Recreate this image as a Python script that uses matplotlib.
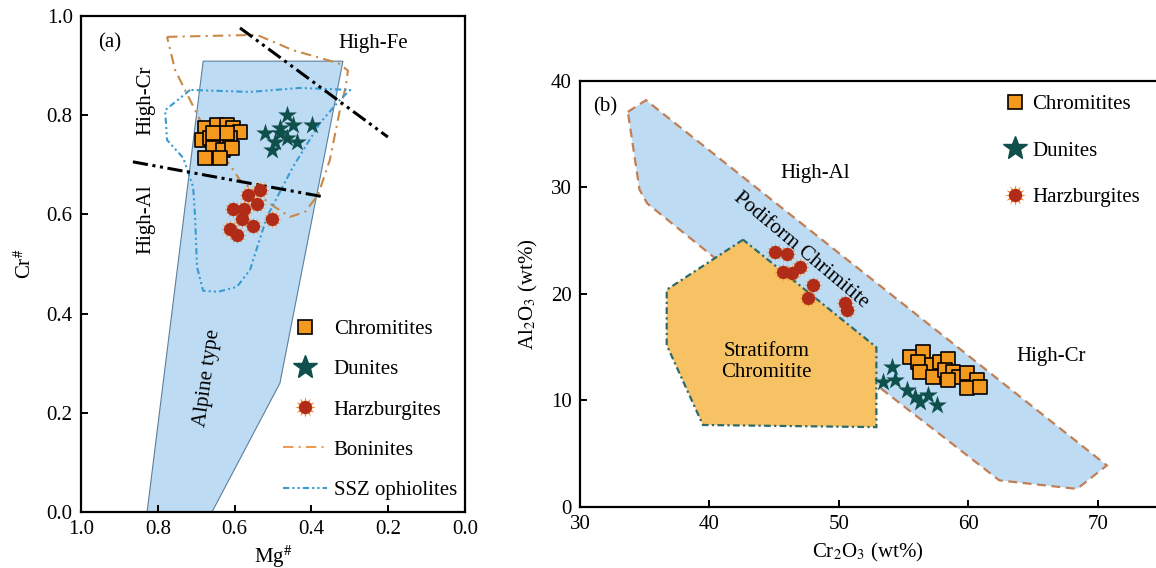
import numpy as np
import matplotlib
matplotlib.use("Agg")
import matplotlib.pyplot as plt
from matplotlib.lines import Line2D
from matplotlib.patches import Polygon
from matplotlib.legend_handler import HandlerTuple

# ==========================
# Data panel (a): Mg# vs Cr#
# ==========================
alpine_mg = [0.682, 0.318, 0.482, 0.659, 0.828]
alpine_cr = [0.909, 0.909, 0.260, 0.0, 0.0]

bon_mg = [0.776, 0.542, 0.448, 0.330, 0.305, 0.310, 0.326, 0.352, 0.383, 0.417, 0.456,
          0.503, 0.586, 0.690, 0.755, 0.776]
bon_cr = [0.958, 0.962, 0.931, 0.905, 0.890, 0.860, 0.810, 0.710, 0.639, 0.605, 0.595,
          0.619, 0.669, 0.790, 0.891, 0.958]

ssz_mg = [0.716, 0.781, 0.776, 0.734, 0.708, 0.703, 0.698, 0.682, 0.643, 0.594,
          0.560, 0.516, 0.448, 0.378, 0.326, 0.299, 0.430, 0.560, 0.716]
ssz_cr = [0.851, 0.810, 0.750, 0.714, 0.655, 0.595, 0.494, 0.446, 0.444, 0.454,
          0.488, 0.595, 0.696, 0.784, 0.831, 0.851, 0.855, 0.847, 0.851]

line_fe_mg = [0.586, 0.201]
line_fe_cr = [0.976, 0.756]
line_al_mg = [0.865, 0.365]
line_al_cr = [0.706, 0.635]

chr_mg = [0.677, 0.646, 0.620, 0.604, 0.586, 0.685, 0.664, 0.638, 0.612, 0.656,
          0.630, 0.607, 0.677, 0.638, 0.620, 0.656]
chr_cr = [0.774, 0.780, 0.780, 0.774, 0.766, 0.750, 0.754, 0.746, 0.754, 0.734,
          0.730, 0.734, 0.714, 0.714, 0.764, 0.764]

dun_mg = [0.464, 0.521, 0.482, 0.448, 0.398, 0.495, 0.464, 0.438, 0.503, 0.482]
dun_cr = [0.800, 0.764, 0.774, 0.780, 0.780, 0.746, 0.754, 0.746, 0.730, 0.764]

hz_mg = [0.534, 0.565, 0.542, 0.576, 0.604, 0.581, 0.503, 0.552, 0.612, 0.594]
hz_cr = [0.649, 0.639, 0.621, 0.611, 0.611, 0.591, 0.591, 0.577, 0.571, 0.558]

# ==========================
# Data panel (b): Cr2O3 vs Al2O3
# ==========================
pod_cr = [33.7, 35.1, 70.7, 68.4, 62.4, 53.7, 40.3, 35.2, 34.6]
pod_al = [37.1, 38.2, 3.9, 1.7, 2.5, 10.7, 23.5, 28.5, 29.8]

strat_cr = [42.6, 36.7, 36.7, 39.5, 52.9, 52.9]
strat_al = [25.1, 20.4, 15.2, 7.7, 7.5, 15.0]

chr2_cr = [55.5, 56.5, 56.1, 57.2, 57.8, 58.4, 56.3, 57.3, 58.2, 58.8, 59.3, 58.4,
           59.9, 60.7, 59.9, 60.9]
chr2_al = [14.1, 14.6, 13.6, 13.3, 13.6, 13.9, 12.7, 12.2, 12.9, 12.7, 12.2, 11.9,
           12.6, 11.9, 11.2, 11.3]

dun2_cr = [54.1, 53.4, 54.3, 55.3, 55.9, 56.9, 57.6, 56.3]
dun2_al = [13.1, 11.7, 11.9, 11.0, 10.3, 10.5, 9.6, 9.9]

hz2_cr = [45.1, 46.0, 45.7, 46.4, 47.0, 48.0, 47.6, 50.5, 50.6]
hz2_al = [23.9, 23.8, 22.1, 22.0, 22.5, 20.8, 19.6, 19.2, 18.5]

# ==========================
# Stijl
# ==========================
plt.rcParams['font.family'] = ['Liberation Serif', 'DejaVu Serif']
plt.rcParams['mathtext.fontset'] = 'stix'
fs = 15

blue_fill = '#bddcf3'
orange_fill = '#f6c263'
sq_col = '#f39a1e'
star_col = '#0f4f4c'
hz_in = '#b02c18'
hz_out = '#f28c2c'
bon_col = '#c98848'
ssz_col = '#3a9ad2'

fig = plt.figure(figsize=(11.56, 5.68), dpi=100)
ax1 = fig.add_axes([0.0701, 0.0986, 0.3322, 0.8732])
ax2 = fig.add_axes([0.5017, 0.1074, 0.4983, 0.75])


def harz(ax, x, y, s_out, s_in, z=5):
    ax.scatter(x, y, s=s_out, marker=(12, 1, 0), color=hz_out, lw=0, zorder=z)
    ax.scatter(x, y, s=s_in, marker='o', color=hz_in, lw=0, zorder=z + 0.1)


# ---------- panel (a) ----------
ax1.add_patch(Polygon(np.column_stack([alpine_mg, alpine_cr]), closed=True,
                      facecolor=blue_fill, edgecolor='#5d7f9c', lw=0.8, zorder=1))
ax1.plot(bon_mg, bon_cr, color=bon_col, lw=1.5, ls=(0, (5, 2.5, 1, 2.5)), zorder=2)
ax1.plot(ssz_mg, ssz_cr, color=ssz_col, lw=1.5, ls=(0, (3, 1.5, 1, 1.5, 1, 1.5)), zorder=2)
ax1.plot(line_fe_mg, line_fe_cr, color='black', lw=2.2, ls=(0, (5, 1.5, 1, 1.5, 1, 1.5)), zorder=3)
ax1.plot(line_al_mg, line_al_cr, color='black', lw=2.2, ls=(0, (5, 1.5, 1, 1.5, 1, 1.5)), zorder=3)

ax1.scatter(chr_mg, chr_cr, s=115, marker='s', color=sq_col, edgecolor='black', lw=1.2, zorder=5)
ax1.scatter(dun_mg, dun_cr, s=200, marker='*', color=star_col, lw=0, zorder=5)
harz(ax1, hz_mg, hz_cr, 170, 90)

ax1.set_xlim(1.0, 0.0)
ax1.set_ylim(0.0, 1.0)
ax1.set_xticks([1.0, 0.8, 0.6, 0.4, 0.2, 0.0])
ax1.set_yticks([0.0, 0.2, 0.4, 0.6, 0.8, 1.0])
ax1.xaxis.set_major_formatter(plt.FormatStrFormatter('%.1f'))
ax1.yaxis.set_major_formatter(plt.FormatStrFormatter('%.1f'))
ax1.set_xlabel('Mg$^{\\#}$', fontsize=fs, labelpad=3)
ax1.set_ylabel('Cr$^{\\#}$', fontsize=fs, labelpad=8)

ax1.text(0.955, 0.945, '(a)', fontsize=fs, va='center')
ax1.text(0.24, 0.945, 'High-Fe', fontsize=fs, ha='center', va='center')
ax1.text(0.83, 0.83, 'High-Cr', fontsize=fs, rotation=90, ha='center', va='center')
ax1.text(0.83, 0.59, 'High-Al', fontsize=fs, rotation=90, ha='center', va='center')
ax1.text(0.67, 0.27, 'Alpine type', fontsize=fs, rotation=82, ha='center', va='center')

h_sq = Line2D([], [], marker='s', ms=10.5, mfc=sq_col, mec='black', mew=1.2, ls='none')
h_st = Line2D([], [], marker='*', ms=18, mfc=star_col, mec=star_col, ls='none')
h_hz = (Line2D([], [], marker=(12, 1, 0), ms=15, mfc=hz_out, mec=hz_out, mew=0, ls='none'),
        Line2D([], [], marker='o', ms=8.5, mfc=hz_in, mec=hz_in, ls='none'))
h_bon = Line2D([], [], color='#ee9a55', lw=1.5, ls=(0, (5, 2.5, 1, 2.5)))
h_ssz = Line2D([], [], color=ssz_col, lw=1.5, ls=(0, (3, 1.5, 1, 1.5, 1, 1.5)))

leg1 = ax1.legend([h_sq, h_st, h_hz, h_bon, h_ssz],
                  ['Chromitites', 'Dunites', 'Harzburgites', 'Boninites', 'SSZ ophiolites'],
                  loc='upper left', bbox_to_anchor=(0.526, 0.388), frameon=False,
                  fontsize=fs, handlelength=2.1, handletextpad=0.33, labelspacing=0.99,
                  borderpad=0, borderaxespad=0,
                  handler_map={tuple: HandlerTuple(ndivide=1, pad=0)})

# ---------- panel (b) ----------
ax2.add_patch(Polygon(np.column_stack([pod_cr, pod_al]), closed=True,
                      facecolor=blue_fill, edgecolor='#c27f55', lw=1.6, ls=(0, (4, 2.5)), zorder=1))
ax2.add_patch(Polygon(np.column_stack([strat_cr, strat_al]), closed=True,
                      facecolor=orange_fill, edgecolor='#2e6a6c', lw=1.6,
                      ls=(0, (3, 1.5, 1, 1.5)), zorder=2))

ax2.scatter(chr2_cr, chr2_al, s=115, marker='s', color=sq_col, edgecolor='black', lw=1.2, zorder=5)
ax2.scatter(dun2_cr, dun2_al, s=200, marker='*', color=star_col, lw=0, zorder=5)
harz(ax2, hz2_cr, hz2_al, 170, 90)

ax2.set_xlim(30, 74.5)
ax2.set_ylim(0, 40)
ax2.set_xticks([30, 40, 50, 60, 70])
ax2.set_yticks([0, 10, 20, 30, 40])
ax2.spines['right'].set_visible(False)
ax2.set_xlabel('Cr$_2$O$_3$ (wt%)', fontsize=fs, labelpad=5)
ax2.set_ylabel('Al$_2$O$_3$ (wt%)', fontsize=fs, labelpad=8)

ax2.text(31.0, 37.6, '(b)', fontsize=fs, va='center')
ax2.text(48.2, 31.3, 'High-Al', fontsize=fs, ha='center', va='center')
ax2.text(66.4, 14.1, 'High-Cr', fontsize=fs, ha='center', va='center')
ax2.text(47.1, 24.1, 'Podiform Chrimitite', fontsize=fs, rotation=-40,
         ha='center', va='center', rotation_mode='anchor')
ax2.text(44.4, 13.6, 'Stratiform\nChromitite', fontsize=fs, ha='center', va='center',
         linespacing=1.15)

leg2 = ax2.legend([h_sq, h_st, h_hz], ['Chromitites', 'Dunites', 'Harzburgites'],
                  loc='upper left', bbox_to_anchor=(0.738, 0.968), frameon=False,
                  fontsize=fs, handlelength=1.0, handletextpad=0.3, labelspacing=1.29,
                  borderpad=0, borderaxespad=0,
                  handler_map={tuple: HandlerTuple(ndivide=1, pad=0)})

for ax in (ax1, ax2):
    for sp in ax.spines.values():
        sp.set_linewidth(1.6)
    ax.tick_params(direction='in', length=5, width=1.4, labelsize=fs, pad=6)

plt.savefig('out.png', dpi=100)
